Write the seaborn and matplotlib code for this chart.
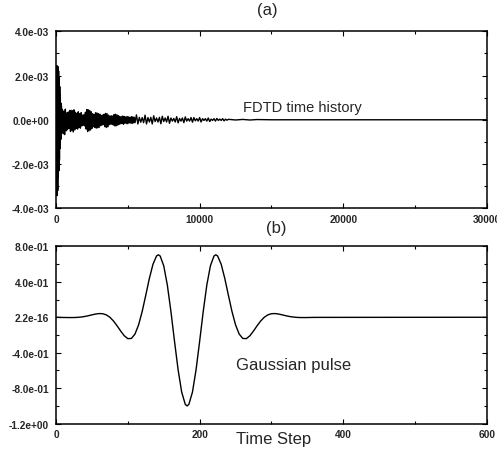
import numpy as np
import pandas as pd
import matplotlib
matplotlib.use('Agg')
import matplotlib.pyplot as plt
import seaborn as sns
from matplotlib.ticker import MultipleLocator

# (a) FDTD time history - sample grid and values (units of 1e-4)
top_t = np.concatenate([np.arange(0, 401, 20), np.arange(450, 5501, 50),
                        np.arange(5600, 12001, 100),
                        [12500, 13000, 13500, 14000, 15000, 30000]])
top_v_e4 = [
    # initial spike 0-400
    0, 12, -29, 24.5, -34.3, 23, -32, 24, -26, 22, -23, 19, -18, 15, -13, 11, -9, 7.5, -8.5, 6, -6,
    # 450-5500
    4.5, -6.3, 3.9, -6.7, 4.8, -5.0, 3.1, -4.5, 3.5, -3.9,
    4.2, -5.3, 4.3, -4.9, 4.1, -5.5, 4.5, -4.6, 3.4, -3.9,
    2.9, -4.2, 3.6, -3.5, 2.8, -3.8, 3.2, -2.8, 2.1, -2.5,
    2.4, -2.8, 3.4, -4.2, 4.6, -5.3, 4.5, -5.0, 4.2, -4.6,
    3.6, -3.9, 2.7, -3.1, 2.4, -3.4, 3.2, -3.8, 3.1, -3.6,
    2.8, -3.5, 2.5, -2.7, 2.0, -2.4, 2.1, -2.2, 2.5, -3.1,
    2.9, -3.5, 2.8, -3.2, 2.1, -2.2, 1.7, -2.0, 1.8, -2.1,
    1.7, -2.4, 2.4, -2.8, 2.5, -2.7, 2.2, -2.4, 1.8, -2.0,
    1.5, -1.8, 1.4, -1.7, 1.7, -2.0, 1.4, -1.5, 1.3, -1.7,
    1.5, -1.8, 1.3, -1.4, 1.1, -1.5, 1.4, -1.7, 1.3, -1.4,
    1.1, -1.3,
    # 5600-12000
    2.2, -1.9, 1.1, -1.1, 1.0, -1.3, 2.1, -1.9, 1.0, -1.0,
    1.1, -1.9, 1.8, -0.8, 0.8, -1.0, 1.1, -1.8, 1.6, -0.8,
    0.8, -1.0, 1.6, -1.6, 0.8, -0.6, 0.6, -1.0, 1.4, -1.4,
    0.6, -0.6, 0.8, -1.3, 1.3, -0.6, 0.5, -0.6, 1.0, -1.1,
    1.0, -0.5, 0.5, -0.6, 1.0, -1.0, 0.5, -0.3, 0.5, -0.6,
    0.8, -0.8, 0.3, -0.3, 0.5, -0.6, 0.6, -0.3, 0.3, -0.3,
    0.5, -0.5, 0.3, -0.2, 0.2,
    # tail
    -0.1, 0.15, -0.1, 0.1, 0, 0,
]
top_v = np.array(top_v_e4) * 1e-4

top_yticks = [4e-3, 2e-3, 0, -2e-3, -4e-3]
top_ylabels = ['4.0e-03', '2.0e-03', '0.0e+00', '-2.0e-03', '-4.0e-03']
top_xticks = [0, 10000, 20000, 30000]

# (b) Gaussian pulse (extra samples at the extrema)
gauss_t = np.concatenate([np.arange(0, 361, 5), [142.5, 182.5, 222.5, 600]])
gauss_v = [
    0.0, -0.0015, -0.0023, -0.0031, -0.0035, -0.0031, -0.0013, 0.0026, 0.0087, 0.0172,
    0.0269, 0.0360, 0.0416, 0.0399, 0.0270, 0.0, -0.0419, -0.0959, -0.1551, -0.2084,
    -0.2412, -0.2387, -0.1888, -0.0858, 0.0656, 0.2493, 0.4380, 0.5972, 0.6912, 0.6908,
    0.5800, 0.3638, 0.0658, -0.2707, -0.5920, -0.8438, -0.9821, -0.9821, -0.8438, -0.5920,
    -0.2707, 0.0658, 0.3638, 0.5800, 0.6908, 0.6912, 0.5972, 0.4380, 0.2493, 0.0656,
    -0.0858, -0.1888, -0.2387, -0.2412, -0.2084, -0.1551, -0.0959, -0.0419, 0.0, 0.0270,
    0.0399, 0.0416, 0.0360, 0.0269, 0.0172, 0.0087, 0.0026, -0.0013, -0.0031, -0.0035,
    -0.0031, -0.0023, -0.0015,
    0.704, -1.0, 0.704, 0.0,
]
bot_yticks = [0.8, 0.4, 0.0, -0.4, -0.8, -1.2]
bot_ylabels = ['8.0e-01', '4.0e-01', '2.2e-16', '-4.0e-01', '-8.0e-01', '-1.2e+00']
bot_xticks = [0, 200, 400, 600]

sns.set_style('ticks', {'xtick.direction': 'in', 'ytick.direction': 'in'})
plt.rcParams['font.family'] = ['Liberation Sans', 'DejaVu Sans']

fig = plt.figure(figsize=(4.97, 4.52), dpi=100)
ax1 = fig.add_axes([0.1127, 0.537, 0.867, 0.3916])
ax2 = fig.add_axes([0.1127, 0.0604, 0.867, 0.3925])

sns.lineplot(x=top_t, y=top_v, ax=ax1, color='black', linewidth=1.0,
             estimator=None, sort=False)
sns.lineplot(x=gauss_t, y=gauss_v, ax=ax2, color='black', linewidth=1.0,
             estimator=None, sort=True)

ax1.set_xlim(0, 30000)
ax1.set_ylim(-4e-3, 4e-3)
ax1.set_xticks(top_xticks)
ax1.set_xticklabels([str(v) for v in top_xticks])
ax1.set_yticks(top_yticks)
ax1.set_yticklabels(top_ylabels)
ax1.xaxis.set_minor_locator(MultipleLocator(5000))
ax1.yaxis.set_minor_locator(MultipleLocator(1e-3))
ax1.text(13000, 0.56e-3, 'FDTD time history', fontsize=10.5, ha='left', va='center')

ax2.set_xlim(0, 600)
ax2.set_ylim(-1.2, 0.8)
ax2.set_xticks(bot_xticks)
ax2.set_xticklabels([str(v) for v in bot_xticks])
ax2.set_yticks(bot_yticks)
ax2.set_yticklabels(bot_ylabels)
ax2.xaxis.set_minor_locator(MultipleLocator(100))
ax2.yaxis.set_minor_locator(MultipleLocator(0.2))
ax2.text(250, -0.535, 'Gaussian pulse', fontsize=12, ha='left', va='center')

for ax in (ax1, ax2):
    ax.set_xlabel('')
    ax.set_ylabel('')
    ax.tick_params(which='both', direction='in', top=True, right=True,
                   color='black', width=0.8)
    ax.tick_params(which='major', length=3.5, pad=4)
    ax.tick_params(which='minor', length=2)
    ax.tick_params(axis='y', which='major', pad=5)
    for lab in ax.get_xticklabels() + ax.get_yticklabels():
        lab.set_fontsize(7.3)
        lab.set_fontweight('bold')
    for sp in ax.spines.values():
        sp.set_visible(True)
        sp.set_linewidth(1.1)
        sp.set_color('black')

fig.text(267 / 497, 1 - 10 / 452, '(a)', fontsize=12, ha='center', va='center')
fig.text(276.5 / 497, 1 - 229 / 452, '(b)', fontsize=12, ha='center', va='center')
fig.text(273.5 / 497, 1 - 440 / 452, 'Time Step', fontsize=12, ha='center', va='center')

fig.savefig('out.png', dpi=100)
